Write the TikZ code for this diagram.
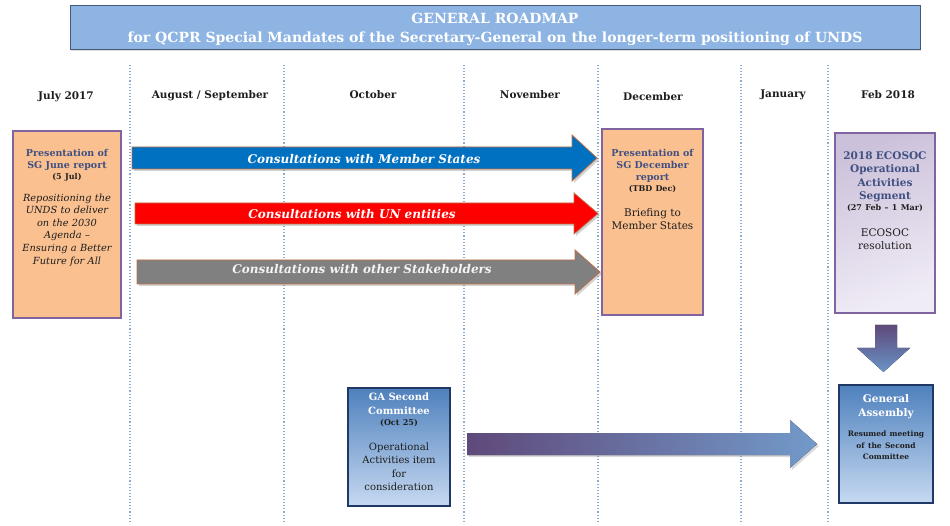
\documentclass[tikz,border=0pt]{standalone}
\usepackage{fontspec}
\setmainfont{DejaVu Serif}
\usetikzlibrary{shadows}
\definecolor{peach}{RGB}{250,192,144}
\definecolor{violetb}{RGB}{128,100,162}
\definecolor{titlebg}{RGB}{141,180,226}
\definecolor{titlebd}{RGB}{70,90,120}
\definecolor{hdtext}{RGB}{64,80,130}
\definecolor{gridc}{RGB}{140,170,210}
\definecolor{arrblue}{RGB}{0,112,192}
\definecolor{arrred}{RGB}{255,0,0}
\definecolor{arrgray}{RGB}{128,128,128}
\definecolor{arrbd}{RGB}{190,110,70}
\definecolor{navy}{RGB}{31,56,100}
\definecolor{gatop}{RGB}{79,129,189}
\definecolor{gabot}{RGB}{198,217,241}
\definecolor{purp}{RGB}{95,73,122}
\definecolor{lav}{RGB}{204,193,218}
\definecolor{lavlight}{RGB}{240,236,246}
\definecolor{darktext}{RGB}{30,30,30}
\tikzset{
  gridline/.style={gridc, dotted, line width=1.1pt},
  month/.style={font=\fontsize{10.5}{12}\selectfont\bfseries, text=darktext},
  peachbox/.style={draw=violetb, line width=2.6pt, fill=peach, inner sep=0pt},
  lavbox/.style={draw=violetb, line width=2.6pt, shading=axis, top color=lav, bottom color=lavlight, shading angle=20, inner sep=0pt},
  gabox/.style={draw=navy, line width=2pt, top color=gatop, bottom color=gabot, inner sep=0pt},
  blockarrow/.style={draw=arrbd, line width=0.8pt, drop shadow={opacity=0.35, shadow xshift=2pt, shadow yshift=-2pt}},
  arrtext/.style={text=white, font=\fontsize{12}{14}\selectfont\bfseries\itshape},
  boxtext/.style={align=center, anchor=north, text=darktext, inner sep=0pt, text width=104pt},
}
\begin{document}
\begin{tikzpicture}[x=1pt,y=-1pt]
\useasboundingbox (0,0) rectangle (950,526);
% title
\node[draw=titlebd, line width=1pt, fill=titlebg, minimum width=850pt, minimum height=44pt, inner sep=0pt,
      drop shadow={opacity=0.25, shadow xshift=1pt, shadow yshift=-1.5pt}] (title) at (495,27.5) {};
\node[text=white, align=center, inner sep=0pt, font=\fontsize{14}{19}\selectfont\bfseries] (titletxt) at (495,29)
  {GENERAL ROADMAP\\for QCPR Special Mandates of the Secretary-General on the longer-term positioning of UNDS};
% grid lines
\foreach \gx/\nm in {130/g1,284/g2,464/g3,598/g4,741/g5,828/g6}{
  \coordinate (\nm top) at (\gx,65);
  \coordinate (\nm bot) at (\gx,522);
  \draw[gridline] (\nm top) -- (\nm bot);
}
% months
\node[month] (m1) at (66,97) {July 2017};
\node[month] (m2) at (210,96) {August / September};
\node[month] (m3) at (373,95) {October};
\node[month] (m4) at (530,95) {November};
\node[month] (m5) at (653,97) {December};
\node[month] (m6) at (783,95) {January};
\node[month] (m7) at (888,95) {Feb 2018};
% July box
\node[peachbox, minimum width=108pt, minimum height=187pt] (july) at (67,224.5) {};
\node[boxtext] (julytxt) at (67,149)
  {{\fontsize{9.5}{12}\selectfont\bfseries\color{hdtext}Presentation of\\SG June report\par}
   {\fontsize{8}{11}\selectfont\bfseries (5 Jul)\par}\vspace{9pt}
   {\fontsize{9.8}{12.6}\selectfont\itshape Repositioning the\\UNDS to deliver\\on the 2030\\Agenda --\\Ensuring a Better\\Future for All\par}};
% December box
\node[peachbox, minimum width=101pt, minimum height=186pt] (dec) at (652.5,222) {};
\node[boxtext] (dectxt) at (652.5,149.5)
  {{\fontsize{9.5}{12}\selectfont\bfseries\color{hdtext}Presentation of\\SG December\\report\par}
   {\fontsize{8}{11}\selectfont\bfseries (TBD Dec)\par}\vspace{12pt}
   {\fontsize{10.5}{13}\selectfont Briefing to\\Member States\par}};
% ECOSOC box
\node[lavbox, minimum width=100pt, minimum height=180pt] (ecosoc) at (885,223) {};
\node[boxtext] (ecotxt) at (885,151.5)
  {{\fontsize{10.5}{13.3}\selectfont\bfseries\color{hdtext}2018 ECOSOC\\Operational\\Activities\\Segment\par}
   {\fontsize{8}{11}\selectfont\bfseries (27 Feb -- 1 Mar)\par}\vspace{13pt}
   {\fontsize{10.5}{13}\selectfont ECOSOC\\resolution\par}};
% GA second committee box
\node[gabox, minimum width=102pt, minimum height=118pt] (ga2) at (399,447) {};
\node[boxtext] (ga2txt) at (399,393)
  {{\fontsize{10}{13.5}\selectfont\bfseries\color{white}GA Second\\Committee\par}
   {\fontsize{8}{11}\selectfont\bfseries (Oct 25)\par}\vspace{12pt}
   {\fontsize{10}{13.3}\selectfont Operational\\Activities item\\for\\consideration\par}};
% General Assembly box
\node[gabox, minimum width=94pt, minimum height=118pt] (ga) at (886,444) {};
\node[boxtext] (gatxt) at (886,394)
  {{\fontsize{10.5}{14}\selectfont\bfseries\color{white}General\\Assembly\par}\vspace{9pt}
   {\fontsize{7.5}{11.5}\selectfont\bfseries Resumed meeting\\of the Second\\Committee\par}};
% consultation arrows
\draw[blockarrow, fill=arrblue] (132,147) -- (572,147) -- (572,135) -- (597,158) -- (572,181) -- (572,169) -- (132,169) -- cycle;
\node[arrtext] (a1) at (364,159) {Consultations with Member States};
\draw[blockarrow, fill=arrred] (135,203) -- (574,203) -- (574,193) -- (598,213.5) -- (574,234) -- (574,224) -- (135,224) -- cycle;
\node[arrtext] (a2) at (352,214) {Consultations with UN entities};
\draw[blockarrow, fill=arrgray] (137,260) -- (575,260) -- (575,250) -- (600,272) -- (575,294) -- (575,284) -- (137,284) -- cycle;
\node[arrtext, text=white!92!gray] (a3) at (362,269) {Consultations with other Stakeholders};
% GA2 -> GA arrow
\fill[left color=purp, right color=gatop!80!white, drop shadow={opacity=0.3, shadow xshift=2pt, shadow yshift=-2pt}]
  (467,433) -- (790,433) -- (790,420) -- (817,444) -- (790,468) -- (790,455) -- (467,455) -- cycle;
% ECOSOC -> GA arrow
\fill[top color=purp, bottom color=gatop!85!white]
  (875,325) -- (897,325) -- (897,348) -- (910,348) -- (883.5,372) -- (857,348) -- (875,348) -- cycle;
\end{tikzpicture}
\end{document}
